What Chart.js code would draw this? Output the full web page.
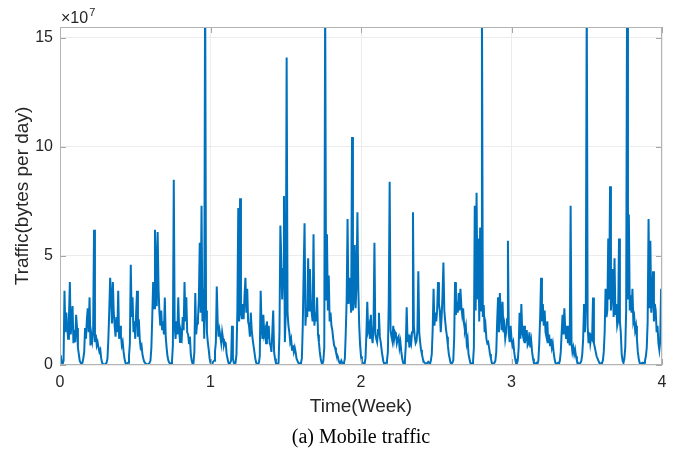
<!DOCTYPE html>
<html>
<head>
<meta charset="utf-8">
<title>Mobile traffic</title>
<script src="https://cdn.jsdelivr.net/npm/chart.js@4/dist/chart.umd.min.js"></script>
<style>
  html, body { margin: 0; padding: 0; background: #fff; }
  #wrap { width: 680px; height: 454px; }
</style>
</head>
<body>
<div id="wrap"><canvas id="trafficChart" width="680" height="454"></canvas></div>
<script>
// hourly traffic, in units of 1e7 bytes (one row = one day)
const week1 = [
  0.45, 0.4, 0.1, 0.05, 0.2, 3.4, 1.5, 2.4, 1.8, 1.2, 2.2, 3.8, 1.4, 2.0, 2.7, 1.0, 1.6, 1.05, 2.3, 1.7, 0.8, 0.5, 0.2, 0.1,
  0.05, 0.1, 0.3, 0.6, 1.7, 1.2, 2.1, 2.6, 1.5, 3.1, 0.9, 1.4, 1.1, 1.5, 6.2, 1.05, 1.4, 0.9, 1.05, 0.8, 0.6, 0.7, 0.3, 0.1,
  0.05, 0.04, 0.02, 0.06, 0.1, 0.3, 1.2, 2.5, 4.0, 3.1, 1.9, 3.8, 2.4, 1.8, 1.3, 2.2, 1.5, 3.4, 1.2, 1.8, 1.4, 0.9, 1.05, 0.6,
  0.3, 0.1, 0.05, 0.08, 0.1, 0.4, 1.0, 4.6, 2.2, 3.1, 1.5, 2.0, 1.2, 2.4, 3.4, 1.3, 2.1, 1.2, 0.8, 0.9, 0.5, 0.3, 0.15, 0.1,
  0.05, 0.02, 0.04, 0.05, 0.1, 0.2, 0.8, 2.2, 3.8, 2.6, 6.2, 4.7, 2.7, 6.1, 3.5, 2.4, 1.8, 2.5, 1.6, 2.0, 1.4, 3.1, 1.3, 0.8,
  0.4, 0.2, 0.1, 0.05, 0.08, 0.15, 0.9, 8.5, 1.8, 1.2, 2.0, 1.4, 3.1, 1.6, 1.05, 1.5, 1.3, 2.2, 1.6, 3.8, 2.0, 3.1, 1.5, 1.4,
  1.0, 1.3, 0.5, 0.2, 0.05, 0.08, 0.6, 3.3, 1.4, 1.9, 2.1, 3.0, 5.6, 2.4, 7.3, 2.0, 3.5, 1.2, 18, 2.5, 1.5, 1.05, 0.7, 0.3
];
const week2 = [
  0.1, 0.1, 0.05, 0.15, 0.2, 0.6, 1.05, 3.6, 2.0, 1.3, 1.6, 1.3, 1.0, 1.5, 1.2, 0.9, 1.05, 1.0, 0.5, 0.3, 0.1, 0.05, 0.1, 0.2,
  1.8, 0.3, 0.1, 0.05, 0.1, 0.5, 2.5, 7.2, 2.0, 7.65, 2.4, 2.1, 2.8, 2.1, 3.2, 4.0, 2.4, 3.5, 2.0, 1.8, 1.3, 2.4, 1.6, 1.2,
  0.9, 0.6, 0.3, 0.1, 0.05, 0.08, 0.1, 0.4, 3.4, 1.8, 1.2, 2.3, 1.4, 1.6, 1.0, 2.0, 1.2, 1.8, 1.0, 0.9, 0.6, 1.5, 2.5, 0.6,
  0.3, 0.1, 0.05, 0.08, 0.1, 1.5, 6.4, 4.9, 3.0, 4.4, 7.75, 1.05, 2.4, 14.1, 2.4, 1.8, 1.5, 1.05, 1.2, 0.7, 0.9, 0.6, 0.8, 0.6,
  0.3, 0.2, 0.1, 0.05, 0.08, 0.1, 0.3, 1.8, 4.3, 6.5, 1.8, 2.6, 2.2, 4.9, 2.5, 4.4, 2.8, 2.4, 2.0, 6.0, 1.8, 2.4, 2.0, 3.1,
  1.4, 1.05, 0.6, 0.3, 0.1, 0.05, 0.2, 0.8, 17, 3.0, 6.0, 2.5, 4.1, 2.0, 2.4, 1.8, 1.6, 1.2, 0.9, 0.8, 0.6, 0.5, 0.4, 0.2,
  0.1, 0.08, 0.2, 0.1, 0.05, 0.1, 0.3, 1.5, 3.0, 6.7, 2.8, 4.0, 3.2, 2.4, 10.45, 2.5, 3.0, 5.5, 2.6, 3.8, 7.0, 3.5, 1.8, 0.9
];
const week3 = [
  0.4, 0.15, 0.1, 0.08, 0.05, 0.3, 1.4, 2.9, 1.6, 1.8, 1.2, 2.3, 1.3, 1.0, 1.8, 5.6, 1.4, 1.2, 1.05, 1.6, 2.4, 1.3, 1.05, 0.7,
  0.4, 0.15, 0.05, 0.08, 0.1, 0.2, 0.6, 2.9, 8.4, 1.6, 1.3, 1.1, 1.8, 1.2, 1.5, 1.4, 1.0, 1.2, 1.3, 0.8, 1.05, 0.6, 0.3, 0.1,
  0.05, 0.2, 0.9, 2.65, 1.05, 1.4, 0.8, 1.2, 1.0, 1.5, 7.0, 1.8, 1.3, 1.0, 1.1, 1.6, 4.3, 1.5, 1.05, 0.7, 0.5, 0.3, 0.15, 0.1,
  0.08, 0.05, 0.1, 0.15, 0.1, 0.05, 0.2, 0.5, 1.6, 3.5, 1.8, 2.4, 2.0, 2.5, 3.8, 2.8, 2.5, 1.5, 2.2, 3.2, 4.7, 2.5, 2.0, 1.6,
  1.3, 0.9, 0.5, 0.3, 0.1, 0.05, 0.1, 0.2, 1.2, 3.8, 2.3, 2.9, 2.4, 3.3, 2.5, 3.5, 2.7, 2.3, 2.6, 1.9, 1.6, 1.8, 1.0, 1.2,
  0.5, 0.3, 0.1, 0.05, 0.08, 0.1, 0.8, 7.3, 2.5, 7.9, 3.0, 5.8, 2.0, 6.3, 2.5, 17, 2.2, 2.75, 1.5, 1.8, 1.2, 1.0, 1.05, 0.8,
  0.5, 0.3, 0.1, 0.05, 0.08, 0.1, 0.2, 0.6, 2.0, 3.1, 1.5, 3.3, 2.4, 1.6, 2.9, 1.5, 1.8, 1.2, 1.5, 2.1, 5.7, 1.4, 1.05, 1.8
];
const week4 = [
  1.2, 0.9, 1.05, 0.6, 0.3, 0.1, 0.05, 0.2, 0.8, 2.4, 1.2, 2.8, 1.5, 1.3, 1.8, 1.0, 1.3, 1.6, 0.9, 1.0, 1.5, 0.8, 1.1, 0.6,
  0.3, 0.1, 0.05, 0.08, 0.1, 0.05, 0.2, 1.0, 2.2, 4.0, 2.0, 2.8, 1.8, 2.5, 1.5, 1.3, 2.0, 1.0, 1.4, 0.9, 1.2, 0.8, 1.0, 0.6,
  0.3, 0.1, 0.05, 0.08, 0.1, 0.05, 0.2, 0.6, 1.5, 2.3, 1.4, 2.6, 1.6, 1.2, 1.8, 1.0, 1.3, 0.9, 7.3, 1.0, 0.6, 0.8, 0.5, 0.7,
  0.4, 0.2, 0.1, 0.05, 0.08, 0.1, 0.2, 0.5, 1.2, 2.8, 1.5, 2.9, 17, 1.8, 1.0, 1.5, 1.0, 1.3, 1.2, 3.1, 1.0, 0.8, 0.6, 0.4,
  0.3, 0.2, 0.1, 0.05, 0.08, 0.1, 0.2, 0.6, 1.5, 3.5, 2.2, 2.5, 5.8, 3.0, 8.2, 2.5, 3.3, 4.4, 2.2, 4.9, 2.3, 2.8, 1.8, 2.0,
  5.8, 2.0, 1.5, 0.5, 0.2, 0.1, 0.3, 0.8, 2.5, 17, 3.0, 6.9, 2.5, 3.2, 2.4, 3.5, 2.0, 2.2, 1.6, 1.8, 1.2, 0.6, 0.3, 0.1,
  0.05, 0.08, 0.1, 0.05, 0.1, 0.2, 0.4, 0.8, 2.0, 6.7, 2.6, 5.7, 2.4, 3.0, 4.3, 2.0, 2.8, 2.5, 1.5, 1.8, 1.0, 0.7, 1.2, 3.5,
  0.5
];

const xTicks = [0, 1, 2, 3, 4];
const yTicks = [0, 5, 10, 15];
const yMax = 15.5;
const hoursPerWeek = 168;

const traffic = [].concat(week1, week2, week3, week4);
const points = traffic.map((v, h) => ({ x: h / hoursPerWeek, y: v }));

const textColor = "#262626";
const sansFont = "'Liberation Sans', Arial, Helvetica, sans-serif";

// MATLAB style box, inward ticks and the x10^7 exponent
const matlabAxes = {
  id: "matlabAxes",
  afterDraw(chart) {
    const { ctx, chartArea: a, scales } = chart;
    ctx.save();
    ctx.strokeStyle = "#a6a6a6";
    ctx.lineWidth = 1;
    ctx.beginPath();
    xTicks.forEach(v => {
      const px = Math.round(scales.x.getPixelForValue(v)) + 0.5;
      ctx.moveTo(px, a.bottom); ctx.lineTo(px, a.bottom - 6);
      ctx.moveTo(px, a.top); ctx.lineTo(px, a.top + 6);
    });
    yTicks.forEach(v => {
      const py = Math.round(scales.y.getPixelForValue(v)) + 0.5;
      ctx.moveTo(a.left, py); ctx.lineTo(a.left + 6, py);
      ctx.moveTo(a.right, py); ctx.lineTo(a.right - 6, py);
    });
    ctx.stroke();
    ctx.strokeStyle = "#b4b4b4";
    ctx.strokeRect(Math.round(a.left) + 0.5, Math.round(a.top) + 0.5,
      Math.round(a.right - a.left) - 1, Math.round(a.bottom - a.top) - 1);

    ctx.fillStyle = textColor;
    ctx.textBaseline = "alphabetic";
    ctx.textAlign = "left";
    ctx.font = "16px " + sansFont;
    ctx.fillText("\u00d710", a.left + 1, a.top - 4);
    const w = ctx.measureText("\u00d710").width;
    ctx.font = "11px " + sansFont;
    ctx.fillText("7", a.left + 1 + w + 1, a.top - 11);
    ctx.restore();
  }
};

const ctx = document.getElementById("trafficChart").getContext("2d");
const chart = new Chart(ctx, {
  type: "line",
  data: {
    datasets: [
      {
        label: "Mobile traffic",
        data: points,
        borderColor: "#0072BD",
        borderWidth: 2,
        pointRadius: 0,
        tension: 0,
        fill: false
      }
    ]
  },
  options: {
    responsive: false,
    animation: false,
    devicePixelRatio: 1,
    parsing: false,
    layout: { padding: { top: 27, right: 18, left: 0, bottom: 0 } },
    plugins: {
      legend: { display: false },
      tooltip: { enabled: false },
      title: {
        display: true,
        position: "bottom",
        fullSize: false,
        text: "(a) Mobile traffic",
        color: "#000",
        font: { family: "'Liberation Serif', 'Times New Roman', serif", size: 20, weight: "normal" },
        padding: { top: 6, bottom: 4 }
      }
    },
    scales: {
      x: {
        type: "linear",
        min: 0,
        max: 4,
        afterBuildTicks: s => { s.ticks = xTicks.map(v => ({ value: v })); },
        afterFit: s => { s.height = 55; },
        grid: { color: "#ececec", drawTicks: false },
        border: { display: false },
        ticks: { color: textColor, font: { family: sansFont, size: 16 }, padding: 8, maxRotation: 0 },
        title: {
          display: true,
          text: "Time(Week)",
          color: textColor,
          font: { family: sansFont, size: 19 },
          padding: { top: 0, bottom: 2 }
        }
      },
      y: {
        type: "linear",
        min: 0,
        max: yMax,
        afterBuildTicks: s => { s.ticks = yTicks.map(v => ({ value: v })); },
        afterFit: s => { s.width = 60; },
        grid: { color: "#ececec", drawTicks: false },
        border: { display: false },
        ticks: { color: textColor, font: { family: sansFont, size: 16 }, padding: 7 },
        title: {
          display: true,
          text: "Traffic(bytes per day)",
          color: textColor,
          font: { family: sansFont, size: 19 },
          padding: { top: 11, bottom: 0 }
        }
      }
    }
  },
  plugins: [matlabAxes]
});
</script>
</body>
</html>
